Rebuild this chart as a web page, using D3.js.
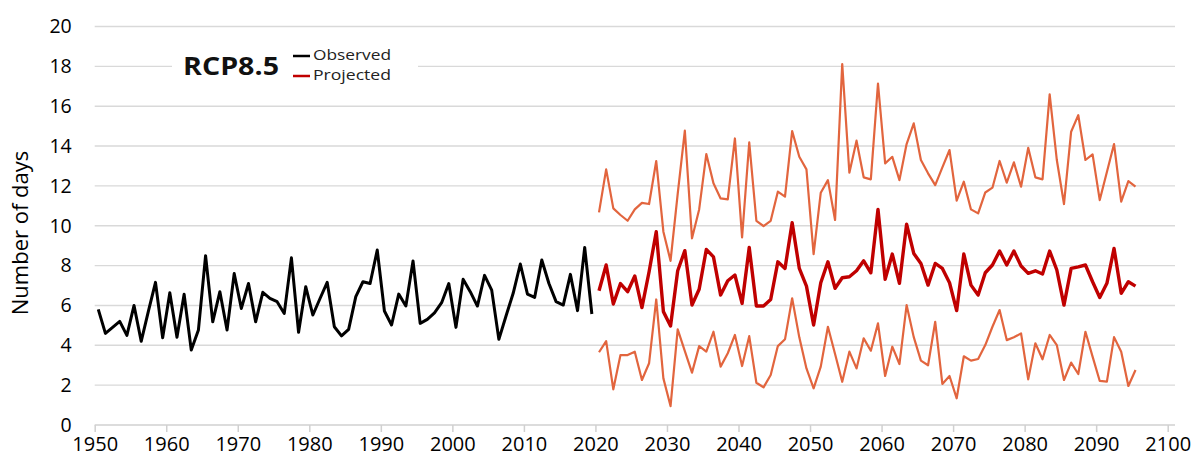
<!DOCTYPE html>
<html>
<head>
<meta charset="utf-8">
<script src="https://cdn.jsdelivr.net/npm/d3@7/dist/d3.min.js"></script>
<style>
  html, body { margin: 0; padding: 0; background: #fff; }
  svg { display: block; }
  text { font-family: "Open Sans", "Liberation Sans", sans-serif; }
</style>
</head>
<body>
<svg id="chart" width="1198" height="464"></svg>
<script>
// ---- Data ----
const observedStart = 1950;
const observed = [
  5.8, 4.6, 4.9, 5.2, 4.5, 6.0, 4.2, 5.7, 7.16, 4.38,
  6.64, 4.4, 6.56, 3.76, 4.77, 8.5, 5.18, 6.69, 4.77, 7.6,
  5.85, 7.1, 5.18, 6.66, 6.36, 6.19, 5.6, 8.39, 4.65, 6.94,
  5.52, 6.35, 7.16, 4.93, 4.47, 4.8, 6.44, 7.19, 7.1, 8.78,
  5.72, 5.02, 6.57, 5.97, 8.23, 5.1, 5.3, 5.63, 6.14, 7.1,
  4.9, 7.31, 6.69, 5.97, 7.51, 6.77, 4.3, 5.47, 6.61, 8.08,
  6.57, 6.4, 8.28, 7.1, 6.19, 6.02, 7.56, 5.74, 8.91, 5.57
];
const projectedStart = 2020;
const projectedMid = [
  6.74, 8.03, 6.07, 7.1, 6.69, 7.48, 5.89, 7.69, 9.7, 5.69,
  4.97, 7.74, 8.75, 6.02, 6.81, 8.81, 8.44, 6.52, 7.24, 7.53,
  6.1, 8.91, 5.97, 5.97, 6.3, 8.19, 7.86, 10.15, 7.86, 6.97,
  5.02, 7.14, 8.19, 6.86, 7.39, 7.44, 7.74, 8.24, 7.64, 10.82,
  7.31, 8.58, 7.11, 10.08, 8.61, 8.11, 7.02, 8.11, 7.86, 7.14,
  5.74, 8.58, 7.02, 6.52, 7.64, 8.03, 8.73, 8.03, 8.73, 7.98,
  7.61, 7.74, 7.58, 8.73, 7.78, 6.02, 7.86, 7.94, 8.03, 7.19,
  6.4, 7.11, 8.86, 6.61, 7.19, 6.97
];
const projectedHigh = [
  10.67, 12.83, 10.87, 10.54, 10.25, 10.82, 11.15, 11.09, 13.25, 9.7,
  8.24, 11.6, 14.77, 9.37, 10.82, 13.6, 12.13, 11.37, 11.32, 14.38,
  9.42, 14.18, 10.25, 9.98, 10.25, 11.71, 11.46, 14.75, 13.46, 12.83,
  8.58, 11.66, 12.29, 10.29, 18.11, 12.66, 14.27, 12.43, 12.33, 17.14,
  13.13, 13.46, 12.29, 14.1, 15.14, 13.3, 12.63, 12.04, 12.93, 13.8,
  11.26, 12.21, 10.82, 10.62, 11.67, 11.91, 13.25, 12.16, 13.18, 11.96,
  13.91, 12.43, 12.33, 16.59, 13.3, 11.09, 14.72, 15.55, 13.3, 13.58,
  11.29, 12.7, 14.1, 11.21, 12.24, 11.96
];
const projectedLow = [
  3.65, 4.21, 1.79, 3.51, 3.51, 3.68, 2.26, 3.1, 6.3, 2.34,
  0.95, 4.8, 3.71, 2.63, 3.96, 3.68, 4.68, 2.93, 3.6, 4.52,
  2.96, 4.46, 2.12, 1.89, 2.51, 3.96, 4.3, 6.36, 4.4, 2.84,
  1.84, 2.93, 4.93, 3.56, 2.17, 3.68, 2.84, 4.35, 3.73, 5.1,
  2.46, 3.93, 3.06, 6.02, 4.41, 3.23, 3.0, 5.18, 2.06, 2.46,
  1.34, 3.45, 3.23, 3.31, 4.01, 4.93, 5.77, 4.26, 4.4, 4.6,
  2.29, 4.1, 3.3, 4.52, 4.01, 2.26, 3.13, 2.56, 4.68, 3.43,
  2.21, 2.18, 4.41, 3.68, 1.96, 2.76
];
const xTicks = [1950, 1960, 1970, 1980, 1990, 2000, 2010, 2020, 2030, 2040, 2050, 2060, 2070, 2080, 2090, 2100];
const yTicks = [0, 2, 4, 6, 8, 10, 12, 14, 16, 18, 20];
const yLabel = "Number of days";
const scenarioLabel = "RCP8.5";
const legendLabels = ["Observed", "Projected"];

// ---- Chart ----
const svg = d3.select("#chart");
const x = d3.scaleLinear().domain([1950, 2100]).range([94.7, 1167.7]);
const y = d3.scaleLinear().domain([0, 20]).range([425, 26.5]);
const gridRight = 1175;

const toPts = (arr, start) => arr.map((v, i) => ({ year: start + i, v }));
const line = d3.line().x(d => x(d.year + 0.5)).y(d => y(d.v));

// gridlines
svg.append("g").selectAll("line").data(yTicks.filter(t => t > 0)).join("line")
  .attr("x1", x(1950)).attr("x2", gridRight)
  .attr("y1", d => y(d)).attr("y2", d => y(d))
  .attr("stroke", "#D9D9D9").attr("stroke-width", 1.4);

// x axis
const xAxis = svg.append("g").attr("transform", `translate(0,${y(0)})`)
  .call(d3.axisBottom(x).tickValues(xTicks).tickFormat(d3.format("d")).tickSize(7).tickSizeOuter(0));
xAxis.select(".domain").attr("stroke", "#D0D0D0").attr("stroke-width", 1.5)
  .attr("d", `M${x(1950)},0H${gridRight}`);
xAxis.selectAll(".tick line").attr("stroke", "#D0D0D0").attr("stroke-width", 1.5);
xAxis.selectAll(".tick text").attr("font-family", "Open Sans").attr("font-size", 20)
  .attr("fill", "#000").attr("y", 12).attr("dy", "0.71em");

// y axis labels
const yAxis = svg.append("g").attr("transform", `translate(${x(1950)},0)`)
  .call(d3.axisLeft(y).tickValues(yTicks).tickSize(0).tickPadding(23));
yAxis.select(".domain").remove();
yAxis.selectAll(".tick text").attr("font-family", "Open Sans").attr("font-size", 19.5).attr("fill", "#000");

// y label
svg.append("text")
  .attr("transform", `translate(28,${233}) rotate(-90)`)
  .attr("text-anchor", "middle")
  .attr("font-size", 22).attr("fill", "#000")
  .text(yLabel);

// lines
svg.append("path").datum(toPts(projectedHigh, projectedStart)).attr("d", line)
  .attr("fill", "none").attr("stroke", "#E2653E").attr("stroke-width", 2.2).attr("stroke-linejoin", "round");
svg.append("path").datum(toPts(projectedLow, projectedStart)).attr("d", line)
  .attr("fill", "none").attr("stroke", "#E2653E").attr("stroke-width", 2.2).attr("stroke-linejoin", "round");
svg.append("path").datum(toPts(projectedMid, projectedStart)).attr("d", line)
  .attr("fill", "none").attr("stroke", "#C00000").attr("stroke-width", 3.4).attr("stroke-linejoin", "round");
svg.append("path").datum(toPts(observed, observedStart)).attr("d", line)
  .attr("fill", "none").attr("stroke", "#000").attr("stroke-width", 3).attr("stroke-linejoin", "round");

// legend
const lg = svg.append("g");
lg.append("rect").attr("x", 172).attr("y", 44).attr("width", 246).attr("height", 44).attr("fill", "#fff");
lg.append("text").attr("x", 183).attr("y", 75).attr("font-size", 25).attr("font-weight", "bold")
  .attr("fill", "#111").attr("textLength", 96).attr("lengthAdjust", "spacingAndGlyphs").text(scenarioLabel);
const legendColors = ["#000", "#C00000"];
legendLabels.forEach((lab, i) => {
  const yy = 56 + i * 20;
  lg.append("line").attr("x1", 293).attr("x2", 310).attr("y1", yy).attr("y2", yy)
    .attr("stroke", legendColors[i]).attr("stroke-width", 2.5);
  lg.append("text").attr("x", 313).attr("y", yy + 4).attr("font-size", 14.5).attr("fill", "#222")
    .attr("textLength", 78).attr("lengthAdjust", "spacingAndGlyphs").text(lab);
});
</script>
</body>
</html>
